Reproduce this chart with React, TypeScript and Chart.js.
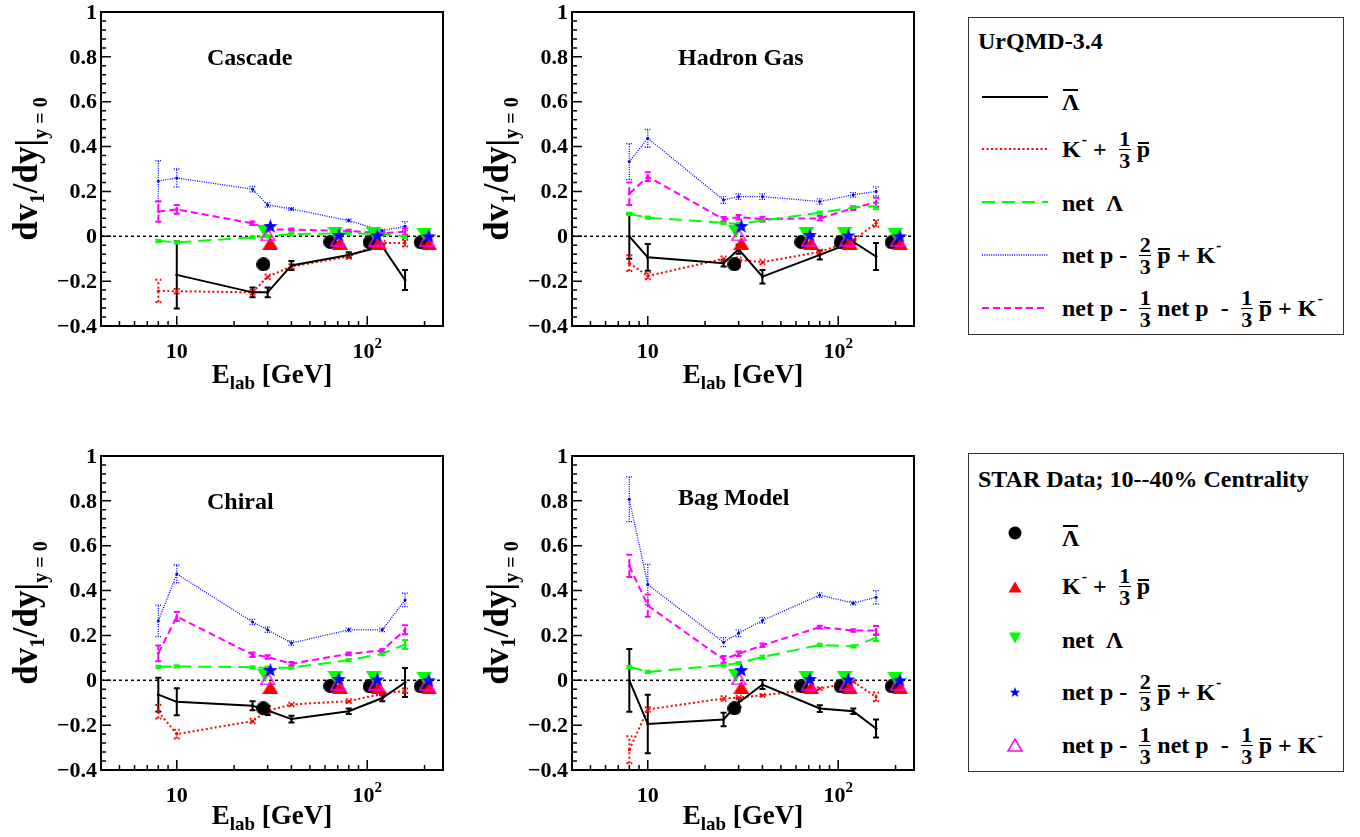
import React, { useEffect, useRef } from "react";
import { Chart, registerables } from "chart.js";

Chart.register(...registerables);

const FONT = "'Liberation Serif', 'Times New Roman', Times, serif";

// ---------- axes ----------
const X_MIN = 4;
const X_MAX = 250;
const Y_MIN = -0.4;
const Y_MAX = 1;
const yMajorTicks = [-0.4, -0.2, 0, 0.2, 0.4, 0.6, 0.8, 1];
const yTickLabels = ["\u22120.4", "\u22120.2", "0", "0.2", "0.4", "0.6", "0.8", "1"];
const xMajorTicks = [10, 100];
const xMinorTicks = [5, 6, 7, 8, 9, 20, 30, 40, 50, 60, 70, 80, 90, 200];
const xTickBase = ["10", "10"];
const xTickExp = ["", "2"];

// ---------- UrQMD model energies ----------
const modelE = [8, 10, 25, 30, 40, 80, 120, 158];

// ---------- Cascade ----------
const cascadeLamBar = [null, -0.172, -0.25, -0.25, -0.13, -0.083, -0.045, -0.195];
const cascadeLamBarErr = [null, 0.15, 0.022, 0.022, 0.02, 0.012, 0.01, 0.045];
const cascadeKaon = [-0.244, -0.245, -0.25, -0.18, -0.135, -0.09, -0.03, -0.03];
const cascadeKaonErr = [0.05, 0.01, 0.01, 0.01, 0.01, 0.01, 0.01, 0.015];
const cascadeNetLam = [-0.02, -0.027, -0.005, 0.0, 0.01, 0.013, 0.01, 0.0];
const cascadeNetLamErr = [0.005, 0.005, 0.005, 0.005, 0.005, 0.005, 0.005, 0.008];
const cascadeNetP23 = [0.247, 0.26, 0.21, 0.14, 0.122, 0.07, 0.025, 0.045];
const cascadeNetP23Err = [0.09, 0.04, 0.012, 0.01, 0.006, 0.006, 0.006, 0.02];
const cascadeNetP13 = [0.11, 0.12, 0.058, 0.031, 0.03, 0.024, 0.013, 0.02];
const cascadeNetP13Err = [0.045, 0.02, 0.008, 0.005, 0.005, 0.005, 0.005, 0.015];

// ---------- Hadron Gas ----------
const hadronLamBar = [0.0, -0.094, -0.12, -0.058, -0.18, -0.083, -0.025, -0.09];
const hadronLamBarErr = [0.1, 0.06, 0.015, 0.02, 0.03, 0.02, 0.01, 0.06];
const hadronKaon = [-0.12, -0.177, -0.1, -0.105, -0.115, -0.07, -0.017, 0.058];
const hadronKaonErr = [0.035, 0.015, 0.01, 0.01, 0.01, 0.01, 0.01, 0.015];
const hadronNetLam = [0.1, 0.083, 0.06, 0.055, 0.07, 0.105, 0.128, 0.135];
const hadronNetLamErr = [0.005, 0.005, 0.005, 0.005, 0.005, 0.005, 0.005, 0.015];
const hadronNetP23 = [0.333, 0.437, 0.162, 0.177, 0.177, 0.155, 0.185, 0.2];
const hadronNetP23Err = [0.08, 0.04, 0.015, 0.012, 0.012, 0.012, 0.01, 0.02];
const hadronNetP13 = [0.19, 0.266, 0.076, 0.085, 0.077, 0.08, 0.125, 0.152];
const hadronNetP13Err = [0.05, 0.02, 0.01, 0.01, 0.01, 0.01, 0.008, 0.02];

// ---------- Chiral ----------
const chiralLamBar = [-0.064, -0.096, -0.114, -0.135, -0.173, -0.138, -0.079, -0.01];
const chiralLamBarErr = [0.075, 0.06, 0.02, 0.02, 0.015, 0.012, 0.015, 0.065];
const chiralKaon = [-0.14, -0.24, -0.182, -0.136, -0.108, -0.093, -0.06, -0.047];
const chiralKaonErr = [0.03, 0.02, 0.01, 0.01, 0.008, 0.008, 0.008, 0.01];
const chiralNetLam = [0.06, 0.062, 0.058, 0.055, 0.056, 0.09, 0.118, 0.16];
const chiralNetLamErr = [0.005, 0.005, 0.005, 0.005, 0.005, 0.005, 0.006, 0.02];
const chiralNetP23 = [0.265, 0.474, 0.26, 0.225, 0.166, 0.225, 0.225, 0.358];
const chiralNetP23Err = [0.07, 0.04, 0.012, 0.012, 0.01, 0.008, 0.008, 0.03];
const chiralNetP13 = [0.12, 0.284, 0.114, 0.104, 0.074, 0.118, 0.133, 0.225];
const chiralNetP13Err = [0.035, 0.02, 0.01, 0.008, 0.008, 0.006, 0.006, 0.02];

// ---------- Bag Model ----------
const bagLamBar = [0.0, -0.195, -0.175, -0.1, -0.019, -0.126, -0.138, -0.215];
const bagLamBarErr = [0.14, 0.13, 0.03, 0.02, 0.02, 0.015, 0.012, 0.04];
const bagKaon = [-0.31, -0.13, -0.081, -0.077, -0.067, -0.037, -0.007, -0.074];
const bagKaonErr = [0.06, 0.01, 0.01, 0.008, 0.006, 0.006, 0.006, 0.02];
const bagNetLam = [0.06, 0.037, 0.068, 0.077, 0.104, 0.158, 0.151, 0.19];
const bagNetLamErr = [0.005, 0.005, 0.005, 0.005, 0.005, 0.005, 0.005, 0.015];
const bagNetP23 = [0.807, 0.427, 0.17, 0.21, 0.267, 0.38, 0.344, 0.37];
const bagNetP23Err = [0.1, 0.09, 0.02, 0.015, 0.012, 0.01, 0.008, 0.03];
const bagNetP13 = [0.51, 0.333, 0.093, 0.118, 0.156, 0.237, 0.222, 0.222];
const bagNetP13Err = [0.05, 0.05, 0.015, 0.01, 0.008, 0.006, 0.006, 0.02];

// ---------- STAR data (10-40% centrality) ----------
const starLamBarE = [28.5, 64, 103, 191];
const starLamBarV = [-0.125, -0.025, -0.027, -0.027];
const starKaonE = [31, 72, 115, 212];
const starKaonV = [-0.031, -0.031, -0.031, -0.034];
const starNetLamE = [29, 68, 108, 199];
const starNetLamV = [0.022, 0.013, 0.013, 0.01];
const starNetP23E = [31, 71, 113, 211];
const starNetP23V = [0.048, 0.008, 0.006, 0.002];
const starNetP13E = [30, 70, 111, 205];
const starNetP13V = [0.008, -0.015, -0.015, -0.016];

const COL_BLACK = "#000000";
const COL_RED = "#ff0000";
const COL_GREEN = "#00ff00";
const COL_BLUE = "#0000ff";
const COL_MAGENTA = "#ff00ff";

type PanelDef = {
  title: string;
  titleDy: number;
  lam: (number | null)[];
  lamErr: (number | null)[];
  kaon: number[];
  kaonErr: number[];
  netLam: number[];
  netLamErr: number[];
  p23: number[];
  p23Err: number[];
  p13: number[];
  p13Err: number[];
};

const cascadeDef: PanelDef = {
  title: "Cascade", titleDy: 53,
  lam: cascadeLamBar, lamErr: cascadeLamBarErr, kaon: cascadeKaon, kaonErr: cascadeKaonErr,
  netLam: cascadeNetLam, netLamErr: cascadeNetLamErr, p23: cascadeNetP23, p23Err: cascadeNetP23Err,
  p13: cascadeNetP13, p13Err: cascadeNetP13Err,
};
const hadronDef: PanelDef = {
  title: "Hadron Gas", titleDy: 53,
  lam: hadronLamBar, lamErr: hadronLamBarErr, kaon: hadronKaon, kaonErr: hadronKaonErr,
  netLam: hadronNetLam, netLamErr: hadronNetLamErr, p23: hadronNetP23, p23Err: hadronNetP23Err,
  p13: hadronNetP13, p13Err: hadronNetP13Err,
};
const chiralDef: PanelDef = {
  title: "Chiral", titleDy: 53,
  lam: chiralLamBar, lamErr: chiralLamBarErr, kaon: chiralKaon, kaonErr: chiralKaonErr,
  netLam: chiralNetLam, netLamErr: chiralNetLamErr, p23: chiralNetP23, p23Err: chiralNetP23Err,
  p13: chiralNetP13, p13Err: chiralNetP13Err,
};
const bagDef: PanelDef = {
  title: "Bag Model", titleDy: 49,
  lam: bagLamBar, lamErr: bagLamBarErr, kaon: bagKaon, kaonErr: bagKaonErr,
  netLam: bagNetLam, netLamErr: bagNetLamErr, p23: bagNetP23, p23Err: bagNetP23Err,
  p13: bagNetP13, p13Err: bagNetP13Err,
};

// ---------- marker images ----------
function makeMarker(kind: string, w: number, h: number, color: string): HTMLCanvasElement {
  const c = document.createElement("canvas");
  c.width = w;
  c.height = h;
  const g = c.getContext("2d")!;
  g.fillStyle = color;
  g.strokeStyle = color;
  g.beginPath();
  if (kind === "circle") {
    g.arc(w / 2, h / 2, w / 2, 0, Math.PI * 2);
    g.fill();
  } else if (kind === "tri") {
    g.moveTo(w / 2, 0);
    g.lineTo(w, h);
    g.lineTo(0, h);
    g.closePath();
    g.fill();
  } else if (kind === "triDown") {
    g.moveTo(0, 0);
    g.lineTo(w, 0);
    g.lineTo(w / 2, h);
    g.closePath();
    g.fill();
  } else if (kind === "openTri") {
    g.lineWidth = 1.5;
    g.moveTo(w / 2, 1);
    g.lineTo(w - 1, h - 1);
    g.lineTo(1, h - 1);
    g.closePath();
    g.stroke();
  } else if (kind === "star") {
    const R = w / 2;
    const r = R * 0.42;
    for (let k = 0; k < 10; k++) {
      const rad = k % 2 === 0 ? R : r;
      const ang = -Math.PI / 2 + (k * Math.PI) / 5;
      const px = w / 2 + rad * Math.cos(ang);
      const py = h / 2 + 1 + rad * Math.sin(ang);
      if (k === 0) g.moveTo(px, py);
      else g.lineTo(px, py);
    }
    g.closePath();
    g.fill();
  }
  return c;
}

type Part = { t: string; size: number; dy: number };

function drawRich(ctx: CanvasRenderingContext2D, parts: Part[], x: number, y: number) {
  let total = 0;
  for (const p of parts) {
    ctx.font = `bold ${p.size}px ${FONT}`;
    total += ctx.measureText(p.t).width;
  }
  let cx = x - total / 2;
  ctx.textAlign = "left";
  ctx.textBaseline = "alphabetic";
  for (const p of parts) {
    ctx.font = `bold ${p.size}px ${FONT}`;
    ctx.fillText(p.t, cx, y + p.dy);
    cx += ctx.measureText(p.t).width;
  }
}

function makeFramePlugin(def: PanelDef, xTitleDy: number) {
  return {
    id: "rootFrame",
    beforeDatasetsDraw(chart: any) {
      const { ctx, chartArea: a } = chart;
      const xs = chart.scales.x;
      const ys = chart.scales.y;
      ctx.save();
      ctx.beginPath();
      ctx.rect(a.left, a.top, a.right - a.left, a.bottom - a.top);
      ctx.clip();
      // zero line
      const y0 = ys.getPixelForValue(0);
      ctx.strokeStyle = "#000";
      ctx.lineWidth = 1.5;
      ctx.setLineDash([3, 3]);
      ctx.beginPath();
      ctx.moveTo(a.left, y0);
      ctx.lineTo(a.right, y0);
      ctx.stroke();
      // error bars
      chart.data.datasets.forEach((ds: any) => {
        const errs = ds.errors;
        if (!errs) return;
        ctx.strokeStyle = ds.borderColor;
        ctx.lineWidth = ds.errWidth || ds.borderWidth;
        ctx.setLineDash(ds.borderDash || []);
        ds.data.forEach((p: any, i: number) => {
          const e = errs[i];
          if (p.y === null || p.y === undefined || !e) return;
          const px = xs.getPixelForValue(p.x);
          const y1 = ys.getPixelForValue(p.y - e);
          const y2 = ys.getPixelForValue(p.y + e);
          ctx.beginPath();
          ctx.moveTo(px, y1);
          ctx.lineTo(px, y2);
          ctx.moveTo(px - 3, y1);
          ctx.lineTo(px + 3, y1);
          ctx.moveTo(px - 3, y2);
          ctx.lineTo(px + 3, y2);
          ctx.stroke();
        });
      });
      ctx.restore();
    },
    afterDraw(chart: any) {
      const { ctx, chartArea: a } = chart;
      const xs = chart.scales.x;
      const ys = chart.scales.y;
      ctx.save();
      ctx.setLineDash([]);
      ctx.strokeStyle = "#000";
      ctx.fillStyle = "#000";
      // frame
      ctx.lineWidth = 2;
      ctx.strokeRect(a.left, a.top, a.right - a.left, a.bottom - a.top);
      // y ticks
      ctx.lineWidth = 1.5;
      ctx.beginPath();
      for (let i = 0; i < yMajorTicks.length; i++) {
        const py = ys.getPixelForValue(yMajorTicks[i]);
        ctx.moveTo(a.left, py);
        ctx.lineTo(a.left + 10, py);
        if (i < yMajorTicks.length - 1) {
          const step = (yMajorTicks[i + 1] - yMajorTicks[i]) / 5;
          for (let k = 1; k < 5; k++) {
            const pm = ys.getPixelForValue(yMajorTicks[i] + k * step);
            ctx.moveTo(a.left, pm);
            ctx.lineTo(a.left + 5, pm);
          }
        }
      }
      // x ticks
      for (const v of xMajorTicks) {
        const px = xs.getPixelForValue(v);
        ctx.moveTo(px, a.bottom);
        ctx.lineTo(px, a.bottom - 10);
      }
      for (const v of xMinorTicks) {
        const px = xs.getPixelForValue(v);
        ctx.moveTo(px, a.bottom);
        ctx.lineTo(px, a.bottom - 5);
      }
      ctx.stroke();
      // y tick labels
      ctx.font = `bold 22px ${FONT}`;
      ctx.textAlign = "right";
      ctx.textBaseline = "middle";
      for (let i = 0; i < yMajorTicks.length; i++) {
        ctx.fillText(yTickLabels[i], a.left - 4, ys.getPixelForValue(yMajorTicks[i]) + 1);
      }
      // x tick labels
      for (let i = 0; i < xMajorTicks.length; i++) {
        const px = xs.getPixelForValue(xMajorTicks[i]);
        const parts: Part[] = [{ t: xTickBase[i], size: 22, dy: 0 }];
        if (xTickExp[i]) parts.push({ t: xTickExp[i], size: 15, dy: -10 });
        drawRich(ctx, parts, px, a.bottom + 32);
      }
      // x title
      drawRich(
        ctx,
        [
          { t: "E", size: 27, dy: 0 },
          { t: "lab", size: 19, dy: 6 },
          { t: " [GeV]", size: 27, dy: 0 },
        ],
        (a.left + a.right) / 2,
        a.bottom + xTitleDy
      );
      // y title (rotated)
      ctx.save();
      ctx.translate(a.left - 64, (a.top + a.bottom) / 2);
      ctx.rotate(-Math.PI / 2);
      drawRich(
        ctx,
        [
          { t: "dv", size: 35, dy: 0 },
          { t: "1", size: 21, dy: 7 },
          { t: "/dy", size: 35, dy: 0 },
          { t: "|", size: 35, dy: 3 },
          { t: "y = 0", size: 20, dy: 10 },
        ],
        0,
        0
      );
      ctx.restore();
      // panel title
      ctx.font = `bold 24px ${FONT}`;
      ctx.textAlign = "left";
      ctx.textBaseline = "alphabetic";
      ctx.fillText(def.title, a.left + 106, a.top + def.titleDy);
      ctx.restore();
    },
  };
}

function buildConfig(def: PanelDef, W: number, H: number, xTitleDy: number): any {
  const mCircle = makeMarker("circle", 14, 14, COL_BLACK);
  const mTri = makeMarker("tri", 16, 13, COL_RED);
  const mTriDown = makeMarker("triDown", 16, 13, COL_GREEN);
  const mStar = makeMarker("star", 15, 15, COL_BLUE);
  const mOpenTri = makeMarker("openTri", 16, 14, COL_MAGENTA);

  const line = (label: string, ys: (number | null)[], errs: (number | null)[], color: string, width: number, dash: number[], order: number) => ({
    label,
    data: modelE.map((e, i) => ({ x: e, y: ys[i] })),
    errors: errs,
    borderColor: color,
    backgroundColor: color,
    borderWidth: width,
    borderDash: dash,
    pointRadius: 1.5,
    pointHoverRadius: 1.5,
    pointBorderWidth: 0,
    pointBackgroundColor: color,
    showLine: true,
    tension: 0,
    spanGaps: false,
    fill: false,
    order,
  });
  const pts = (label: string, xsArr: number[], ysArr: number[], style: HTMLCanvasElement, order: number) => ({
    label,
    data: xsArr.map((e, i) => ({ x: e, y: ysArr[i] })),
    showLine: false,
    pointStyle: style,
    pointRadius: 7,
    pointHoverRadius: 7,
    borderColor: "rgba(0,0,0,0)",
    backgroundColor: "rgba(0,0,0,0)",
    order,
  });

  return {
    type: "line",
    data: {
      datasets: [
        pts("STAR net p - 2/3 pbar + K-", starNetP23E, starNetP23V, mStar, 0),
        pts("STAR net p - 1/3 net p - 1/3 pbar + K-", starNetP13E, starNetP13V, mOpenTri, 1),
        pts("STAR net Lambda", starNetLamE, starNetLamV, mTriDown, 2),
        pts("STAR K- + 1/3 pbar", starKaonE, starKaonV, mTri, 3),
        pts("STAR anti-Lambda", starLamBarE, starLamBarV, mCircle, 4),
        line("UrQMD anti-Lambda", def.lam, def.lamErr, COL_BLACK, 2, [], 5),
        line("UrQMD K- + 1/3 pbar", def.kaon, def.kaonErr, COL_RED, 2, [2, 2.5], 6),
        line("UrQMD net Lambda", def.netLam, def.netLamErr, COL_GREEN, 2, [13, 7], 7),
        line("UrQMD net p - 2/3 pbar + K-", def.p23, def.p23Err, COL_BLUE, 1.3, [1, 1.3], 8),
        line("UrQMD net p - 1/3 net p - 1/3 pbar + K-", def.p13, def.p13Err, COL_MAGENTA, 2, [7, 4], 9),
      ],
    },
    options: {
      responsive: false,
      animation: false,
      events: [],
      layout: { padding: { left: 101, top: 12, right: W - 443, bottom: H - 326 } },
      plugins: { legend: { display: false }, tooltip: { enabled: false }, title: { display: false } },
      scales: {
        x: { type: "logarithmic", min: X_MIN, max: X_MAX, display: false },
        y: { type: "linear", min: Y_MIN, max: Y_MAX, display: false },
      },
    },
    plugins: [makeFramePlugin(def, xTitleDy)],
  };
}

function Panel({ def, left, top, width, height, xTitleDy }: { def: PanelDef; left: number; top: number; width: number; height: number; xTitleDy: number }) {
  const ref = useRef<HTMLCanvasElement>(null);
  useEffect(() => {
    const canvas = ref.current!;
    const chart = new Chart(canvas, buildConfig(def, width, height, xTitleDy));
    return () => chart.destroy();
  }, []);
  return (
    <canvas
      ref={ref}
      width={width}
      height={height}
      style={{ position: "absolute", left, top, width, height }}
    />
  );
}

// ---------- legend pieces (HTML) ----------
const Over = ({ children, barTop }: { children: React.ReactNode; barTop: number }) => (
  <span style={{ position: "relative", display: "inline-block", lineHeight: "28px" }}>
    {children}
    <span style={{ position: "absolute", left: 1, right: 1, top: barTop, height: 2, background: "#000" }} />
  </span>
);

const Frac = ({ n, d }: { n: string; d: string }) => (
  <span
    style={{
      display: "inline-flex",
      flexDirection: "column",
      alignItems: "center",
      fontSize: 22,
      lineHeight: "19px",
      margin: "0 6px",
    }}
  >
    <span>{n}</span>
    <span style={{ width: 12, height: 1, background: "#000", margin: "1px 0" }} />
    <span>{d}</span>
  </span>
);

const Sup = () => (
  <span style={{ fontSize: 16, position: "relative", top: -9, marginLeft: 1 }}>-</span>
);

const Row = ({ cy, children }: { cy: number; children: React.ReactNode }) => (
  <div
    style={{
      position: "absolute",
      left: 1062,
      top: cy - 25,
      height: 50,
      display: "flex",
      alignItems: "center",
      whiteSpace: "pre",
      fontFamily: FONT,
      fontWeight: "bold",
      fontSize: 24,
      lineHeight: "28px",
      color: "#000",
    }}
  >
    {children}
  </div>
);

const LamBar = () => <Over barTop={1}>Λ</Over>;
const PBar = () => <Over barTop={7}>p</Over>;

const Entry1 = () => <LamBar />;
const Entry2 = () => (
  <>
    K<Sup />
    {" + "}
    <Frac n="1" d="3" />
    {" "}
    <PBar />
  </>
);
const Entry3 = () => <>{"net  Λ"}</>;
const Entry4 = () => (
  <>
    {"net p - "}
    <Frac n="2" d="3" />
    {" "}
    <PBar />
    {" + K"}
    <Sup />
  </>
);
const Entry5 = () => (
  <>
    {"net p - "}
    <Frac n="1" d="3" />
    {"net p  - "}
    <Frac n="1" d="3" />
    {" "}
    <PBar />
    {" + K"}
    <Sup />
  </>
);

const legendModelY = [102, 149, 203, 255, 308];
const legendModelLineY = [97, 149, 202, 255, 308];
const legendStarY = [538, 586, 640, 692, 745];
const legendStarMarkY = [533, 587, 638, 692, 745];

const lineStyles = [
  { color: COL_BLACK, width: 2, dash: "" },
  { color: COL_RED, width: 2, dash: "2 2.5" },
  { color: COL_GREEN, width: 2, dash: "13 7" },
  { color: COL_BLUE, width: 1.3, dash: "1 1.3" },
  { color: COL_MAGENTA, width: 2, dash: "7 4" },
];

function starPoints(cx: number, cy: number, R: number): string {
  const r = R * 0.42;
  const out: string[] = [];
  for (let k = 0; k < 10; k++) {
    const rad = k % 2 === 0 ? R : r;
    const ang = -Math.PI / 2 + (k * Math.PI) / 5;
    out.push(`${(cx + rad * Math.cos(ang)).toFixed(2)},${(cy + rad * Math.sin(ang)).toFixed(2)}`);
  }
  return out.join(" ");
}

const MarkerSvg = ({ kind }: { kind: number }) => (
  <svg width={20} height={20} style={{ display: "block" }}>
    {kind === 0 && <circle cx={10} cy={10} r={6.5} fill={COL_BLACK} />}
    {kind === 1 && <polygon points="3.5,15.5 16.5,15.5 10,4.5" fill={COL_RED} />}
    {kind === 2 && <polygon points="4,4.5 16,4.5 10,15.5" fill={COL_GREEN} />}
    {kind === 3 && <polygon points={starPoints(10, 10.5, 5.5)} fill={COL_BLUE} />}
    {kind === 4 && <polygon points="3,16 17,16 10,4" fill="none" stroke={COL_MAGENTA} strokeWidth={1.5} />}
  </svg>
);

const entries = [Entry1, Entry2, Entry3, Entry4, Entry5];

function LegendBoxes() {
  const boxStyle = (top: number, height: number): React.CSSProperties => ({
    position: "absolute",
    left: 968,
    top,
    width: 376,
    height,
    border: "1px solid #333",
    boxSizing: "border-box",
    background: "#fff",
  });
  const titleStyle = (baseline: number): React.CSSProperties => ({
    position: "absolute",
    left: 978,
    top: baseline - 21,
    fontFamily: FONT,
    fontWeight: "bold",
    fontSize: 24,
    lineHeight: "26px",
    whiteSpace: "pre",
    color: "#000",
  });
  return (
    <>
      <div style={boxStyle(17, 318)} />
      <div style={titleStyle(49)}>UrQMD-3.4</div>
      {entries.map((E, i) => (
        <React.Fragment key={"m" + i}>
          <svg
            width={68}
            height={10}
            style={{ position: "absolute", left: 981, top: legendModelLineY[i] - 5 }}
          >
            <line
              x1={1}
              y1={5}
              x2={67}
              y2={5}
              stroke={lineStyles[i].color}
              strokeWidth={lineStyles[i].width}
              strokeDasharray={lineStyles[i].dash || undefined}
            />
          </svg>
          <Row cy={legendModelY[i]}>
            <E />
          </Row>
        </React.Fragment>
      ))}

      <div style={boxStyle(453, 319)} />
      <div style={titleStyle(487)}>STAR Data; 10--40% Centrality</div>
      {entries.map((E, i) => (
        <React.Fragment key={"s" + i}>
          <div style={{ position: "absolute", left: 1005, top: legendStarMarkY[i] - 10 }}>
            <MarkerSvg kind={i} />
          </div>
          <Row cy={legendStarY[i]}>
            <E />
          </Row>
        </React.Fragment>
      ))}
    </>
  );
}

export default function App() {
  return (
    <div
      style={{
        position: "absolute",
        left: 0,
        top: 0,
        width: 1360,
        height: 837,
        background: "#fff",
        overflow: "hidden",
      }}
    >
      <Panel def={cascadeDef} left={0} top={0} width={470} height={420} xTitleDy={57} />
      <Panel def={hadronDef} left={471} top={0} width={470} height={420} xTitleDy={57} />
      <Panel def={chiralDef} left={0} top={444} width={470} height={393} xTitleDy={54} />
      <Panel def={bagDef} left={471} top={444} width={470} height={393} xTitleDy={54} />
      <LegendBoxes />
    </div>
  );
}
